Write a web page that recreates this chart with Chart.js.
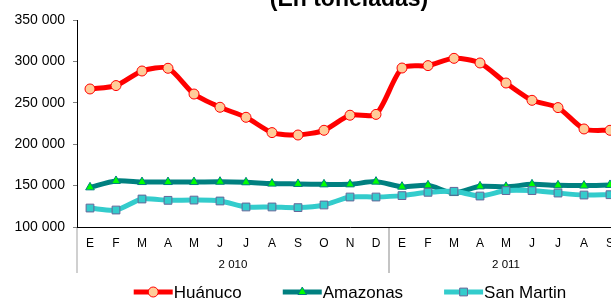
<!DOCTYPE html>
<html>
<head>
<meta charset="utf-8">
<script src="https://cdn.jsdelivr.net/npm/chart.js"></script>
<style>
  body { margin: 0; overflow: hidden; background: #fff; }
  #wrap { width: 640px; height: 300px; }
</style>
</head>
<body>
<div id="wrap"><canvas id="grafico" width="640" height="300"></canvas></div>
<script>
// Meses (eje X) y agrupación por años
const meses = ["E", "F", "M", "A", "M", "J", "J", "A", "S", "O", "N", "D",
               "E", "F", "M", "A", "M", "J", "J", "A", "S"];
const anios = ["2 010", "2 011"];
const mesesPorAnio = [12, 9];

// Producción en toneladas
const huanuco = [266700, 270800, 288400, 291700, 260600, 244600, 232500, 214000, 211100, 216800, 235000, 236000,
                 292000, 294900, 303700, 298100, 273900, 253000, 244200, 218400, 216800];
const amazonas = [147900, 155600, 154300, 154300, 154300, 154700, 154000, 152400, 152000, 151500, 151500, 154800,
                  148700, 150300, 141000, 149100, 148500, 151500, 150300, 150000, 150800];
const sanMartin = [122900, 120500, 133800, 132200, 132500, 131400, 124200, 124200, 123400, 126600, 136200, 136200,
                   137900, 141900, 143100, 137400, 144000, 144000, 141000, 138600, 139000];

const FUENTE = "'Liberation Sans', Arial, sans-serif";

// formatea 350000 -> "350 000"
const miles = v => String(v).replace(/\B(?=(\d{3})+(?!\d))/g, " ");

// Título, años del eje y leyenda dibujados a mano
const extras = {
    id: "extras",
    afterDraw(chart) {
        const ctx = chart.ctx;
        const x = chart.scales.x;
        const area = chart.chartArea;
        ctx.save();

        // título (cortado arriba)
        ctx.fillStyle = "#000";
        ctx.font = "bold 23px " + FUENTE;
        ctx.textAlign = "center";
        ctx.textBaseline = "alphabetic";
        ctx.fillText("(En toneladas)", 349, 6);

        // separadores y etiquetas de año
        const paso = x.getPixelForValue(1) - x.getPixelForValue(0);
        ctx.strokeStyle = "#c0c0c0";
        ctx.lineWidth = 1.5;
        let inicio = 0;
        anios.forEach((anio, i) => {
            const n = mesesPorAnio[i];
            const x0 = x.getPixelForValue(inicio) - paso / 2;
            const x1 = x.getPixelForValue(inicio + n - 1) + paso / 2;
            [x0, x1].forEach(px => {
                ctx.beginPath();
                ctx.moveTo(px, area.bottom + 1);
                ctx.lineTo(px, 273);
                ctx.stroke();
            });
            ctx.font = "11.5px " + FUENTE;
            ctx.textBaseline = "middle";
            ctx.fillText(anio, (x0 + x1) / 2, 265);
            inicio += n;
        });

        // leyenda
        ctx.font = "17px " + FUENTE;
        ctx.textAlign = "left";
        const largo = 39, hueco = 41, yl = 292;
        const anchos = chart.data.datasets.map(d => largo + 1 + ctx.measureText(d.label).width);
        const total = anchos.reduce((a, b) => a + b, 0) + hueco * (anchos.length - 1);
        let lx = 350 - total / 2;
        chart.data.datasets.forEach((d, i) => {
            ctx.strokeStyle = d.borderColor;
            ctx.lineWidth = 5;
            ctx.beginPath();
            ctx.moveTo(lx, yl);
            ctx.lineTo(lx + largo, yl);
            ctx.stroke();
            ctx.fillStyle = d.pointBackgroundColor;
            ctx.strokeStyle = d.pointBorderColor;
            ctx.lineWidth = 1;
            Chart.helpers.drawPoint(ctx, { pointStyle: d.pointStyle, radius: d.pointRadius, borderWidth: 1 }, lx + largo / 2, yl);
            ctx.fillStyle = "#000";
            ctx.fillText(d.label, lx + largo + 1, yl + 1);
            lx += anchos[i] + hueco;
        });
        ctx.restore();
    }
};

const ctx = document.getElementById("grafico").getContext("2d");

new Chart(ctx, {
    type: "line",
    data: {
        labels: meses,
        datasets: [
            {
                label: "Huánuco",
                data: huanuco,
                borderColor: "#ff0000",
                borderWidth: 5,
                pointStyle: "circle",
                pointRadius: 5,
                pointBackgroundColor: "#ffcc99",
                pointBorderColor: "#ff0000",
                pointBorderWidth: 1,
                tension: 0.25,
                order: 3
            },
            {
                label: "Amazonas",
                data: amazonas,
                borderColor: "#008080",
                borderWidth: 5,
                pointStyle: "triangle",
                pointRadius: 5,
                pointBackgroundColor: "#00ff00",
                pointBorderColor: "#008080",
                pointBorderWidth: 1,
                tension: 0.25,
                order: 2
            },
            {
                label: "San Martin",
                data: sanMartin,
                borderColor: "#33cccc",
                borderWidth: 5,
                pointStyle: "rect",
                pointRadius: 5.5,
                pointBackgroundColor: "#33cccc",
                pointBorderColor: "#666699",
                pointBorderWidth: 1,
                tension: 0.25,
                order: 1
            }
        ]
    },
    options: {
        responsive: false,
        animation: false,
        layout: { padding: { top: 20, right: 17, left: 0, bottom: 0 } },
        plugins: {
            legend: { display: false },
            tooltip: { enabled: false }
        },
        scales: {
            x: {
                offset: true,
                grid: { display: false, drawTicks: false },
                border: { color: "#000", width: 1 },
                ticks: {
                    autoSkip: false,
                    maxRotation: 0,
                    padding: 9,
                    color: "#000",
                    font: { family: FUENTE, size: 12 }
                },
                afterFit: s => { s.height = 73; }
            },
            y: {
                min: 100000,
                max: 350000,
                grid: { drawOnChartArea: false, tickLength: 4, color: "#808080" },
                border: { color: "#000", width: 1 },
                ticks: {
                    stepSize: 50000,
                    padding: 8,
                    color: "#000",
                    font: { family: FUENTE, size: 14 },
                    callback: v => miles(v)
                },
                afterFit: s => { s.width = 77; }
            }
        }
    },
    plugins: [extras]
});
</script>
</body>
</html>
